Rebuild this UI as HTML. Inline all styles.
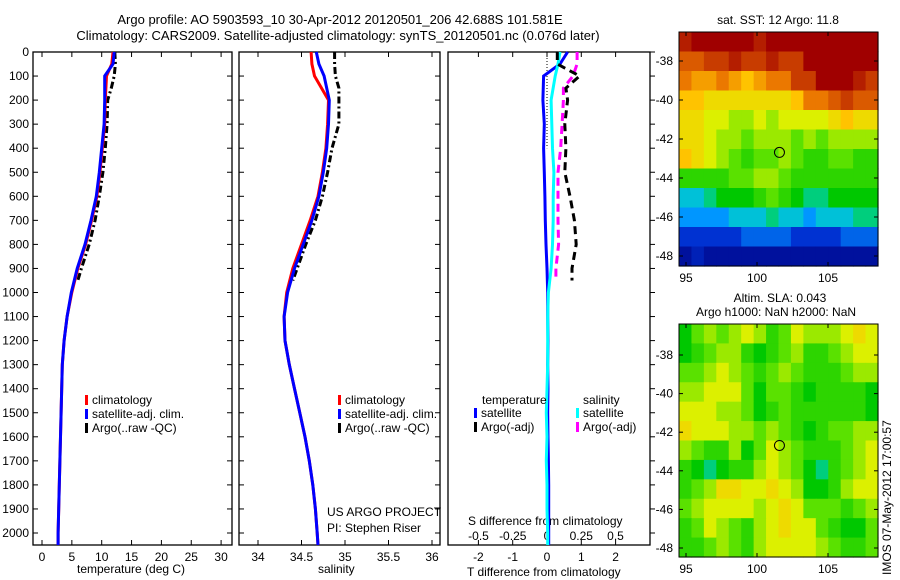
<!DOCTYPE html>
<html><head><meta charset="utf-8">
<style>
html,body{margin:0;padding:0;background:#fff;}
svg{display:block;font-family:"Liberation Sans",sans-serif;}
text{font-size:12px;fill:#000;}
</style></head>
<body>
<svg id="c" width="900" height="580" viewBox="0 0 900 580">
<text x="340" y="24" text-anchor="middle" style="font-size:13px">Argo profile: AO 5903593_10 30-Apr-2012 20120501_206 42.688S 101.581E</text>
<text x="338" y="40" text-anchor="middle" style="font-size:13px">Climatology: CARS2009. Satellite-adjusted climatology: synTS_20120501.nc (0.076d later)</text>
<text x="778" y="24" text-anchor="middle">sat. SST: 12 Argo: 11.8</text>
<text x="780" y="302" text-anchor="middle">Altim. SLA: 0.043</text>
<text x="776" y="316" text-anchor="middle">Argo h1000: NaN h2000: NaN</text>
<text transform="translate(891,575) rotate(-90)">IMOS 07-May-2012 17:00:57</text>
<text x="77" y="573">temperature (deg C)</text>
<text x="318" y="573">salinity</text>
<text x="467" y="576">T difference from climatology</text>
<text x="468" y="525">S difference from climatology</text>
<text x="327" y="516">US ARGO PROJECT</text>
<text x="327" y="532">PI: Stephen Riser</text>
<g id="g"></g>
</svg>
<script>
// ---- profile data ----
const depths = [0,50,100,200,300,400,500,600,700,800,900,1000,1100,1200,1300,1400,1500,1600,1700,1800,1900,2000,2050];
const tempClim = [11.9,11.7,10.8,10.6,10.5,10.1,9.7,9.2,8.3,7.3,6.0,5.0,4.2,3.7,3.4,3.3,3.2,3.1,3.0,2.9,2.8,2.7,2.7];
const tempSat  = [12.1,11.9,10.5,10.5,10.4,10.0,9.6,9.1,8.2,7.2,5.9,4.9,4.2,3.7,3.4,3.3,3.2,3.1,3.0,2.9,2.8,2.7,2.7];
const argoDepths = [0,50,100,150,200,300,400,500,600,700,800,900,950];
const tempArgo = [12.2,12.3,12.1,11.6,11.0,10.9,10.6,10.2,9.6,8.9,7.9,6.6,6.0];
const salClim = [34.61,34.62,34.65,34.81,34.80,34.78,34.74,34.69,34.60,34.50,34.40,34.33,34.30,34.31,34.36,34.42,34.48,34.54,34.59,34.63,34.66,34.68,34.69];
const salSat  = [34.67,34.70,34.76,34.82,34.81,34.79,34.75,34.70,34.62,34.52,34.42,34.34,34.30,34.31,34.36,34.42,34.48,34.54,34.59,34.63,34.66,34.68,34.69];
const salArgo = [34.88,34.88,34.89,34.93,34.93,34.93,34.85,34.80,34.74,34.66,34.55,34.45,34.40];
const tDiffSat = [0.6,0.38,-0.1,-0.12,-0.08,-0.1,-0.08,-0.06,-0.05,-0.03,0,0.02,0.02,0.03,0.02,0.03,0.02,0.03,0.04,0.05,0.05,0.05,0.05];
const tDiffArgo = [0.3,0.3,0.95,0.55,0.6,0.52,0.55,0.52,0.67,0.8,0.85,0.73,0.73];
const sDiffSat = [0.095,0.08,0.06,0.03,0.035,0.04,0.05,0.045,0.045,0.04,0.03,0.01,0.005,0.005,0.005,0.0,-0.005,0.0,-0.005,0.0,0.0,0.005,0.005];
const sDiffArgo = [0.22,0.22,0.19,0.12,0.12,0.11,0.1,0.08,0.08,0.08,0.085,0.065,0.065];
const depthTicks = [0,100,200,300,400,500,600,700,800,900,1000,1100,1200,1300,1400,1500,1600,1700,1800,1900,2000];
const tempTicks = [0,5,10,15,20,25,30];
const salTicks = [34,34.5,35,35.5,36];
const tdTicks = [-2,-1,0,1,2];
const sdTickVals = [-0.5,-0.25,0,0.25,0.5];
const sdTickLabels = ['-0.5','-0.25','0','0.25','0.5'];
// ---- map data (0..10 colour scale) ----
const lonTicks = [95,100,105];
const latTicks = [-38,-40,-42,-44,-46,-48];
const sstGrid = [
[9.5,10,10,10,10,10,9.5,10,10,10,10,10,10,10,10,10],
[8.5,8.5,9,9,9.5,9,9,9.5,9,9,10,10,10,10,10,10],
[8,7.5,7.5,8,7.5,7,7.5,8,8,9,9,10,10,10,9.5,9],
[7,7,6.5,6.5,6.5,6.5,6.5,6.5,6.5,7,8,8,8.5,9,8.5,8.5],
[6.5,6.5,6,6,5.5,5.5,6,5.5,6,6,6,6,6.5,7,6.5,6.5],
[6.5,6.5,6,5.5,5.5,5,5.5,5.5,5.5,5,5.5,5,5.5,5.5,5.5,5.5],
[7,6.5,6,5.5,5,4.5,5,5,5.5,5,4.5,4.5,5,5,4.5,4.5],
[4.5,4.5,4.5,4.5,5,5,5.5,5.5,5,4.5,4.5,4.5,4.5,4.5,4.5,4.5],
[3,3,3.5,4,4,4,4.5,5,4.5,4,3.5,3.5,4,4,4,4],
[2.5,2.5,2.5,2.5,3,3,3,3.5,3,3,2.5,3,3,3,3.5,3.5],
[1.5,1.5,1.5,1.5,1.5,2,2,2,2,1.5,1.5,1.5,1.5,2,2,2],
[0.5,1,0.5,0.5,0.5,0.5,0.5,0.5,0.5,0.5,0.5,0.5,0.5,0.5,0.5,0.5]];
const slaGrid = [
[4,5,5.5,5,5.5,6,5.5,4.5,5,6,5.5,5.5,5.5,6,6.5,6],
[4,4.5,5,5.5,5.5,4.5,4,4.5,5,5.5,4.5,4.5,5,5.5,6,6],
[5,5,5.5,6,5.5,5,4.5,5,5.5,5,4.5,4.5,4.5,5,5.5,5.5],
[5.5,5.5,6,6,6,5,4,5,5,4.5,4,4.5,4.5,4.5,4.5,4],
[6,6,6,5.5,5.5,5,4,4.5,5,4.5,4.5,4.5,4.5,4.5,4.5,4],
[6.5,6,6,6,5.5,5.5,5,5.5,5,4.5,4,4.5,5,5,5.5,5.5],
[5.5,5,4.5,4.5,5.5,4,5,6,5.5,5,4.5,4.5,4.5,5,5.5,6],
[4.5,4,3.5,4,4.5,4.5,5.5,6,5.5,5,4,3.5,4.5,5,5.5,6],
[4.5,5,5.5,6.5,6.5,6,6,6.5,6,5.5,4,4,4.5,5.5,6,6],
[5,5.5,6,6,6,6,5.5,6,6.5,6,5,5,5,4.5,5,5.5],
[4.5,5,6,5.5,5,4.5,5.5,6,6.5,6,6,5,4.5,4,4,5],
[4.5,4.5,5,5.5,5,4.5,5.5,6,6,6,6,5.5,5,4.5,4.5,5]];
const floatLon = 101.581, floatLat = -42.688;

const NS='http://www.w3.org/2000/svg';
const G=document.getElementById('g');
function mk(tag,attrs,parent){const e=document.createElementNS(NS,tag);for(const k in attrs)e.setAttribute(k,attrs[k]);(parent||G).appendChild(e);return e;}
// axes
const yTop=52, yBot=545;
const yD = d => yTop + d*0.2405;
const xT = v => 42 + v*5.97;
const xS = v => 258 + (v-34)*87;
const xTD = v => 547 + v*34.3;
const xSD = v => 547 + v*137;
const panels=[[33,232],[239,440],[448,650]];
panels.forEach((p,i)=>{
  const r=mk('rect',{x:p[0],y:yTop,width:p[1]-p[0],height:yBot-yTop,fill:'none',stroke:'#000','stroke-width':1.3});
  
  
  depthTicks.forEach(d=>{
    const y=yD(d);
    if(i<2){mk('line',{x1:p[0],x2:p[0]+5,y1:y,y2:y,stroke:'#000'});mk('line',{x1:p[1],x2:p[1]-5,y1:y,y2:y,stroke:'#000'});}
    else {mk('line',{x1:p[1],x2:p[1]+5,y1:y,y2:y,stroke:'#000'});}
  });
});
depthTicks.forEach(d=>{
  const t=mk('text',{x:29,y:yD(d)+4,'text-anchor':'end'});t.textContent=d;
  
  
});
function xticks(ticks,fx,labels,y,pname,top){
  ticks.forEach((v,i)=>{
    const x=fx(v);
    mk('line',{x1:x,x2:x,y1:yBot,y2:yBot-5,stroke:'#000'});
    if(!top) mk('line',{x1:x,x2:x,y1:yTop,y2:yTop+5,stroke:'#000'});
    const t=mk('text',{x:x,y:y,'text-anchor':'middle'});t.textContent=labels?labels[i]:v;
    
    
  });
}
xticks(tempTicks,xT,null,561,'temperature-tick-label');
xticks(salTicks,xS,null,561,'salinity-tick-label');
xticks(tdTicks,xTD,null,561,'tdiff-tick-label');
sdTickVals.forEach((v,i)=>{const t=mk('text',{x:xSD(v),y:540,'text-anchor':'middle'});t.textContent=sdTickLabels[i];
  
  });
// zero dotted line
const zl=mk('line',{x1:xTD(0),x2:xTD(0),y1:yTop,y2:yD(400),stroke:'#000','stroke-dasharray':'1,2'});


function line(ds,vs,fx,color,dash,name,w){
  const pts=ds.map((d,i)=>fx(vs[i]).toFixed(1)+','+yD(d).toFixed(1)).join(' ');
  const e=mk('polyline',{points:pts,fill:'none',stroke:color,'stroke-width':w||3,'stroke-dasharray':dash||'none'});
  
  
}
line(argoDepths,tempArgo,xT,'#000','7,3,2,3','temp-argo-line');
line(depths,tempClim,xT,'#f00',null,'temp-climatology-line');
line(depths,tempSat,xT,'#00f',null,'temp-satellite-line');
line(argoDepths,salArgo,xS,'#000','7,3,2,3','sal-argo-line');
line(depths,salClim,xS,'#f00',null,'sal-climatology-line');
line(depths,salSat,xS,'#00f',null,'sal-satellite-line');
line(depths,tDiffSat,xTD,'#00f',null,'tdiff-satellite-line');
line(depths,sDiffSat,xSD,'#0ff',null,'sdiff-satellite-line');
line(argoDepths,sDiffArgo,xSD,'#f0f','8,5','sdiff-argo-line');
line(argoDepths,tDiffArgo,xTD,'#000','8,5','tdiff-argo-line');
// legends
function leg(x,y,color,label,name){
  mk('rect',{x:x,y:y-9,width:3,height:10,fill:color});
  const t=mk('text',{x:x+7,y:y});t.textContent=label;
  
  
}
[[85,33],[338,239]].forEach((o,i)=>{
  leg(o[0],404,'#f00','climatology','legend-climatology-'+(i+1));
  leg(o[0],418,'#00f','satellite-adj. clim.','legend-satellite-'+(i+1));
  leg(o[0],432,'#000','Argo(..raw -QC)','legend-argo-'+(i+1));
});
{const t=mk('text',{x:482,y:404});t.textContent='temperature';}
{const t=mk('text',{x:583,y:404});t.textContent='salinity';}
leg(474,417,'#00f','satellite','legend-tdiff-satellite');
leg(474,431,'#000','Argo(-adj)','legend-tdiff-argo');
leg(576,417,'#0ff','satellite','legend-sdiff-satellite');
leg(576,431,'#f0f','Argo(-adj)','legend-sdiff-argo');
// colormap
const cstops=[[0,[0,0,130]],[1.5,[0,50,210]],[2.5,[0,150,255]],[3.2,[0,210,200]],[4,[0,200,0]],[5,[90,225,0]],[6,[220,240,0]],[7,[255,195,0]],[8,[235,120,0]],[9,[200,60,0]],[10,[160,0,0]]];
function cmap(v){
  for(let i=0;i<cstops.length-1;i++){const a=cstops[i],b=cstops[i+1];
    if(v<=b[0]){const f=(v-a[0])/(b[0]-a[0]);return 'rgb('+a[1].map((c,k)=>Math.round(c+(b[1][k]-c)*f)).join(',')+')';}}
  return 'rgb(160,0,0)';
}
function map(grid,x0,y0,x1,y1,latA,latB,name){
  // lon axis: 95 at x0+7, 105 at x0+149 ; lat -38 at latA, -48 at latB
  const rows=grid.length, cols=grid[0].length, cw=(x1-x0)/cols, ch=(y1-y0)/rows;
  const g=mk('g',{});
  
  
  grid.forEach((row,r)=>row.forEach((v,c)=>{
    const e=mk('rect',{x:(x0+c*cw).toFixed(2),y:(y0+r*ch).toFixed(2),width:(cw+0.6).toFixed(2),height:(ch+0.6).toFixed(2),fill:cmap(v)},g);
    
    
  }));
  mk('rect',{x:x0,y:y0,width:x1-x0,height:y1-y0,fill:'none',stroke:'#000'});
  const xL=v=>686+(v-95)*14.2, yL=v=>latA+(v+38)*(latB-latA)/-10;
  lonTicks.forEach(v=>{mk('line',{x1:xL(v),x2:xL(v),y1:y1,y2:y1-4,stroke:'#000'});mk('line',{x1:xL(v),x2:xL(v),y1:y0,y2:y0+4,stroke:'#000'});
    const t=mk('text',{x:xL(v),y:y1+16,'text-anchor':'middle'});t.textContent=v;});
  latTicks.forEach(v=>{mk('line',{x1:x0,x2:x0+4,y1:yL(v),y2:yL(v),stroke:'#000'});mk('line',{x1:x1,x2:x1-4,y1:yL(v),y2:yL(v),stroke:'#000'});
    const t=mk('text',{x:x0-6,y:yL(v)+4,'text-anchor':'end'});t.textContent=v;});
  const m=mk('ellipse',{cx:xL(floatLon),cy:yL(floatLat),rx:5,ry:5,fill:'none',stroke:'#000'});
  
  
}
map(sstGrid,679,32,878,266,61,256,'sst-map');
map(slaGrid,679,324,878,557,355,548,'sla-map');
</script>
</body></html>
